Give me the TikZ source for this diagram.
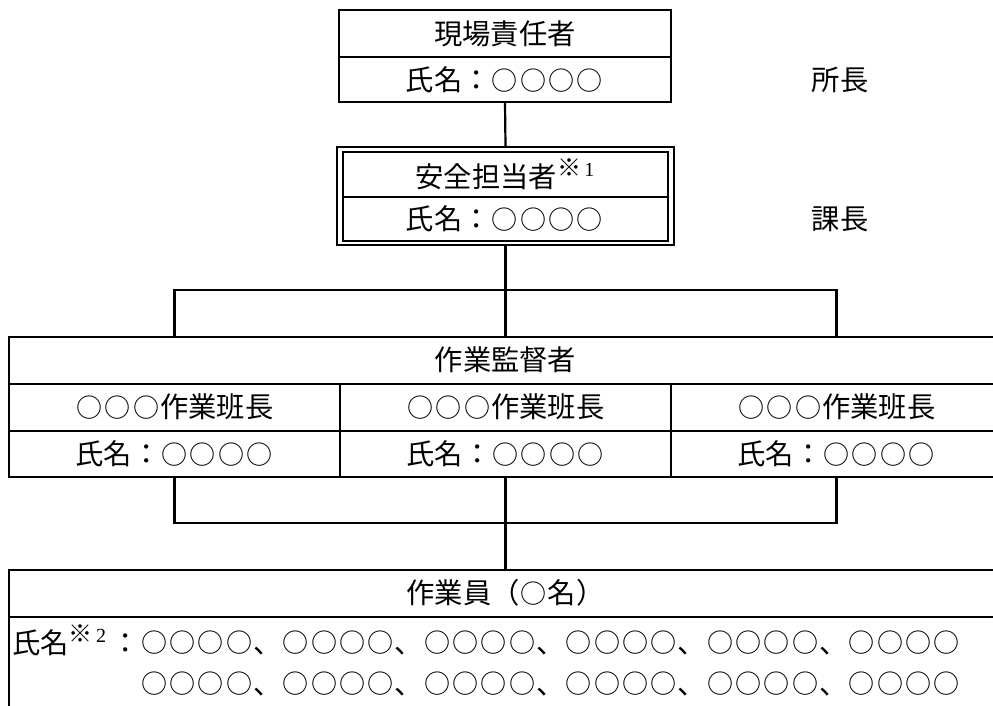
\documentclass[tikz,border=0pt]{standalone}
\usepackage{fontspec}
\setmainfont{Noto Sans CJK JP}
\newfontfamily\lat{Liberation Serif}
\newcommand\kome[1]{\raisebox{0.40em}{\fontsize{24}{24}\selectfont ※\fontsize{20}{20}\selectfont{\lat\,#1}}}
\newcommand\supmark[1]{\makebox[43pt][l]{\kome{#1}}}
\newcommand\maru{\makebox[1em]{\raisebox{0.015em}{\scalebox{0.92}{○}}}}
\tikzset{
  frame/.style={draw, line width=2.2pt, inner sep=0pt},
  rule/.style={line width=1.5pt},
  conn/.style={line width=2.2pt},
  txt/.style={inner sep=0pt, font=\fontsize{28.3}{34}\selectfont},
}
\begin{document}
\begin{tikzpicture}[x=1pt, y=-1pt]
\clip (0,0) rectangle (993,705);
\fill[white] (0,0) rectangle (993,705);

% top box
\node[frame, minimum width=332pt, minimum height=92pt] (top) at (505,56) {};
\draw[rule] (top.west |- 0,57) -- (top.east |- 0,57);
\node[txt] (topA) at (505,33.5) {現場責任者};
\node[txt] (topB) at (505,80) {氏名：\maru\maru\maru\maru};
\node[txt] (shocho) at (840,80) {所長};

% double box
\node[draw, line width=1.6pt, inner sep=0pt, minimum width=337pt, minimum height=98pt] (dblO) at (505.5,196) {};
\node[draw, line width=2pt, inner sep=0pt, minimum width=325pt, minimum height=89pt] (dbl) at (505.5,196.5) {};
\draw[rule] (dbl.west |- 0,197) -- (dbl.east |- 0,197);
\node[txt] (dblA) at (505,174) {安全担当者\kome{1}};
\node[txt] (dblB) at (505,219) {氏名：\maru\maru\maru\maru};
\node[txt] (kacho) at (840,219) {課長};

\draw[conn] (top.south) -- (dblO.north);

% supervisor box
\node[frame, minimum width=993pt, minimum height=140pt] (big) at (505.5,407) {};
\coordinate (r1) at (0,384);
\coordinate (r2) at (0,431);
\coordinate (d1) at (340,384);
\coordinate (d2) at (671,384);
\draw[rule] (big.west |- r1) -- (big.east |- r1);
\draw[rule] (big.west |- r2) -- (big.east |- r2);
\node[txt] (sup) at (505.5,360) {作業監督者};
\node[txt] (c1a) at (174.5,407) {\maru\maru\maru 作業班長};
\node[txt] (c2a) at (505.5,407) {\maru\maru\maru 作業班長};
\node[txt] (c3a) at (836.5,407) {\maru\maru\maru 作業班長};
\node[txt] (c1b) at (174.5,454) {氏名：\maru\maru\maru\maru};
\node[txt] (c2b) at (505.5,454) {氏名：\maru\maru\maru\maru};
\node[txt] (c3b) at (836.5,454) {氏名：\maru\maru\maru\maru};
\draw[rule] (d1) -- (d1 |- big.south);
\draw[rule] (d2) -- (d2 |- big.south);

% upper bus
\coordinate (busT) at (505.5,290);
\draw[conn] (dblO.south) -- (busT);
\draw[conn] (c1a |- big.north) -- (c1a |- busT) -- (c3a |- busT) -- (c3a |- big.north);
\draw[conn] (busT) -- (big.north);

% workers box
\node[frame, minimum width=993pt, minimum height=200pt] (wk) at (505.5,670) {};
\coordinate (r3) at (0,617);
\draw[rule] (wk.west |- r3) -- (wk.east |- r3);
\node[txt] (wkA) at (505.5,593) {作業員（\maru 名）};
\def\four{\maru\maru\maru\maru}
\node[txt, anchor=west] (wkB) at (12,640) {氏名\supmark{2}：\four、\four、\four、\four、\four、\four};
\node[txt, anchor=west] (wkC) at (12,681) {\phantom{氏名\supmark{2}：}\four、\four、\four、\four、\four、\four};

% lower bus
\coordinate (busB) at (505.5,523);
\draw[conn] (c1b |- big.south) -- (c1b |- busB) -- (c3b |- busB) -- (c3b |- big.south);
\draw[conn] (big.south) -- (wk.north);
\end{tikzpicture}
\end{document}
